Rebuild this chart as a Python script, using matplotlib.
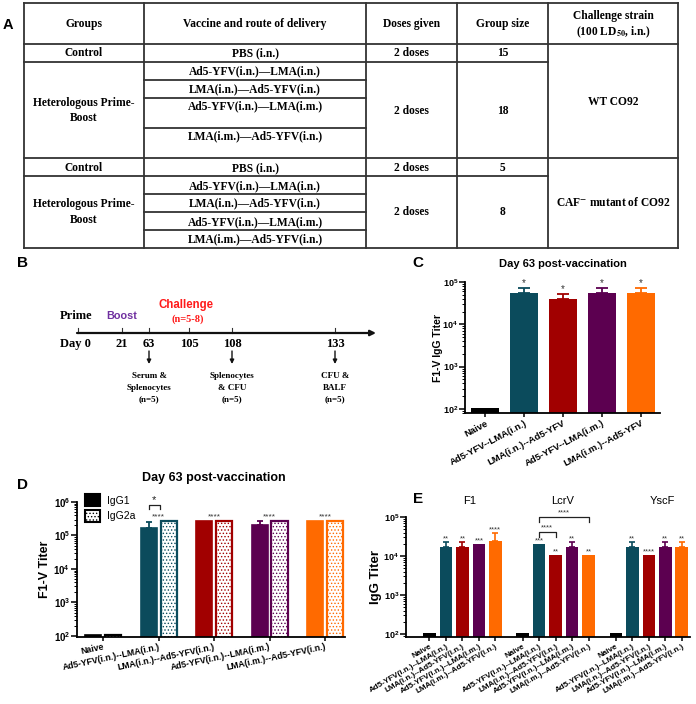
import numpy as np
import matplotlib
matplotlib.use('Agg')
import matplotlib.pyplot as plt
from matplotlib.patches import Patch
from matplotlib.ticker import FixedLocator, FuncFormatter, LogLocator, NullFormatter

plt.rcParams['font.family'] = ['Liberation Sans', 'DejaVu Sans']
plt.rcParams['mathtext.fontset'] = 'custom'
plt.rcParams['mathtext.rm'] = 'Liberation Sans'
plt.rcParams['mathtext.bf'] = 'Liberation Sans:bold'
plt.rcParams['mathtext.it'] = 'Liberation Sans:italic'
plt.rcParams['hatch.linewidth'] = 0.6

# ---- table (panel A)
table_header = ['Groups', 'Vaccine and route of delivery', 'Doses given', 'Group size']
challenge_header = ['Challenge strain', r'(100 LD$_{\mathbf{50}}$, i.n.)']
regimens = ['Ad5-YFV(i.n.)\u2014LMA(i.n.)', 'LMA(i.n.)\u2014Ad5-YFV(i.n.)',
            'Ad5-YFV(i.n.)\u2014LMA(i.m.)', 'LMA(i.m.)\u2014Ad5-YFV(i.n.)']
control_vaccine = 'PBS (i.n.)'
doses = '2 doses'
group_sizes_wt = ['15', '18']
group_sizes_caf = ['5', '8']
strains = ['WT CO92', r'CAF$^{\mathbf{-}}$ mutant of CO92']

# ---- timeline (panel B)
days = ['Day 0', '21', '63', '105', '108', '133']
samples = {'63': ['Serum &', 'Splenocytes', '(n=5)'],
           '108': ['Splenocytes', '& CFU', '(n=5)'],
           '133': ['CFU &', 'BALF', '(n=5)']}

# ---- panel C
groups_c = ['Naive', 'Ad5-YFV--LMA(i.n.)', 'LMA(i.n.)--Ad5-YFV',
            'Ad5-YFV--LMA(i.m.)', 'LMA(i.m.)--Ad5-YFV']
titer_c = [104, 55000, 40000, 55000, 55000]
err_c = [0, 17000, 12000, 17000, 17000]
stars_c = ['', '*', '*', '*', '*']

# ---- panel D
groups_d = ['Naive', 'Ad5-YFV(i.n.)--LMA(i.n.)', 'LMA(i.n.)--Ad5-YFV(i.n.)',
            'Ad5-YFV(i.n.)--LMA(i.m.)', 'LMA(i.m.)--Ad5-YFV(i.n.)']
igg1 = [110, 170000, 262144, 210000, 262144]
igg1_err = [0, 80000, 0, 70000, 0]
igg2a = [110, 262144, 262144, 262144, 262144]
stars_d = ['', '****', '****', '****', '****']

# ---- panel E
antigens = ['F1', 'LcrV', 'YscF']
titer_f1 = [105, 17000, 17000, 20500, 24000]
err_f1 = [0, 6000, 6000, 0, 15000]
titer_lcrv = [105, 20500, 10500, 17000, 10500]
err_lcrv = [0, 0, 0, 6000, 0]
titer_yscf = [105, 17000, 10500, 17000, 17000]
err_yscf = [0, 6000, 0, 6000, 6000]
stars_f1 = ['', '**', '**', '***', '****']
stars_lcrv = ['', '***', '**', '**', '**']
stars_yscf = ['', '**', '****', '**', '**']

colors = ['#000000', '#0b4b5c', '#a10000', '#5c0050', '#ff6a00']
star_col = '#333333'


def log_label(v, pos):
    return r'$\mathbf{10^{%d}}$' % round(np.log10(v))


def style_axis(ax, ymin, ymax, decades, fs):
    ax.set_yscale('log')
    ax.set_ylim(ymin, ymax)
    ax.yaxis.set_major_locator(FixedLocator(decades))
    ax.yaxis.set_major_formatter(FuncFormatter(log_label))
    ax.yaxis.set_minor_locator(LogLocator(base=10, subs=np.arange(2, 10)))
    ax.yaxis.set_minor_formatter(NullFormatter())
    for s in ['top', 'right']:
        ax.spines[s].set_visible(False)
    for s in ['left', 'bottom']:
        ax.spines[s].set_linewidth(1.3)
    ax.tick_params(axis='y', which='major', length=4, width=1.1, labelsize=fs, pad=1)
    ax.tick_params(axis='y', which='minor', length=2, width=0.7)
    ax.tick_params(axis='x', length=3, width=1.1, pad=1)
    ax.set_facecolor('none')


fig = plt.figure(figsize=(6.96, 7.04), dpi=100)

# ================= panel C
axc = fig.add_axes([465 / 696, 1 - 413 / 704, 195 / 696, 131 / 704])
xc = np.arange(len(groups_c))
axc.bar(xc, titer_c, width=0.72, color=colors, bottom=1)
for i in range(len(xc)):
    if err_c[i] > 0:
        axc.errorbar(xc[i], titer_c[i], yerr=[[0], [err_c[i]]], fmt='none',
                     ecolor=colors[i], capsize=4.5, elinewidth=1.3, capthick=1.3)
    axc.text(xc[i], titer_c[i] + err_c[i], stars_c[i], ha='center', va='bottom',
             fontsize=7, color=star_col, clip_on=False)
style_axis(axc, 80, 1e5, [1e2, 1e3, 1e4, 1e5], 6.5)
axc.set_xlim(-0.51, 4.49)
axc.set_xticks(xc)
axc.set_xticklabels(groups_c, rotation=28, ha='right', rotation_mode='anchor',
                    fontsize=6.8, fontweight='bold')
axc.set_ylabel('F1-V IgG Titer', fontsize=7.5, fontweight='bold')
axc.yaxis.set_label_coords(-0.115, 0.5)

# ================= panel D
axd = fig.add_axes([77 / 696, 1 - 637 / 704, 268 / 696, 135 / 704])
xd = np.arange(len(groups_d))
off = 0.18
w = 0.29
axd.bar(xd - off, igg1, width=w, color=colors, edgecolor=colors, linewidth=1.2)
axd.bar(xd + off, igg2a, width=w, color='white', edgecolor=colors, linewidth=1.6,
        hatch='.....')
for i in range(len(xd)):
    if igg1_err[i] > 0:
        axd.errorbar(xd[i] - off, igg1[i], yerr=[[0], [igg1_err[i]]], fmt='none',
                     ecolor=colors[i], capsize=2.5, elinewidth=1.3, capthick=1.3)
    axd.text(xd[i], igg2a[i] * 1.05, stars_d[i], ha='center', va='bottom',
             fontsize=6, color=star_col, clip_on=False)
# IgG1 vs IgG2a bracket
axd.plot([0.82, 0.82, 1.03, 1.03], [6.2e5, 8.1e5, 8.1e5, 6.2e5], color='#222222',
         lw=0.9, clip_on=False)
axd.text(0.925, 8.2e5, '*', ha='center', va='bottom', fontsize=8, color='#222222')
style_axis(axd, 93, 1e6, [1e2, 1e3, 1e4, 1e5, 1e6], 7)
axd.set_xlim(-0.47, 4.36)
axd.set_xticks(xd)
axd.set_xticklabels(groups_d, rotation=12, ha='right', rotation_mode='anchor',
                    fontsize=6.3, fontweight='bold')
axd.set_ylabel('F1-V Titer', fontsize=9, fontweight='bold')
axd.yaxis.set_label_coords(-0.097, 0.5)
leg_handles = [Patch(facecolor='black', edgecolor='black', linewidth=1.5, label='IgG1'),
               Patch(facecolor='white', edgecolor='black', linewidth=1.5, hatch='.....',
                     label='IgG2a')]
axd.legend(handles=leg_handles, loc='upper left', bbox_to_anchor=(0.015, 1.09),
           frameon=False, fontsize=7.5, handlelength=1.45, handleheight=1.45,
           labelspacing=0.3, handletextpad=0.6, borderaxespad=0)

# ================= panel E
axe = fig.add_axes([406 / 696, 1 - 637 / 704, 284 / 696, 120 / 704])
titers_e = [titer_f1, titer_lcrv, titer_yscf]
errs_e = [err_f1, err_lcrv, err_yscf]
stars_e = [stars_f1, stars_lcrv, stars_yscf]
gap = 5.65
xe_all = []
lab_all = []
for g in range(len(antigens)):
    xe = np.arange(5) + g * gap
    axe.bar(xe, titers_e[g], width=0.76, color=colors)
    for i in range(5):
        if errs_e[g][i] > 0:
            axe.errorbar(xe[i], titers_e[g][i], yerr=[[0], [errs_e[g][i]]], fmt='none',
                         ecolor=colors[i], capsize=2.3, elinewidth=1.2, capthick=1.2)
        axe.text(xe[i], (titers_e[g][i] + errs_e[g][i]) * 0.97, stars_e[g][i],
                 ha='center', va='bottom', fontsize=5.5, color=star_col)
    xe_all += list(xe)
    lab_all += groups_d
# LcrV comparisons
x_teal = 1 + gap
axe.plot([x_teal, x_teal, 4 + gap, 4 + gap], [7.4e4, 1e5, 1e5, 7.4e4], color='#222222',
         lw=0.9, clip_on=False)
axe.text((x_teal + 4 + gap) / 2, 1.03e5, '****', ha='center', va='bottom', fontsize=5.5,
         color=star_col, clip_on=False)
axe.plot([x_teal, x_teal, 2 + gap, 2 + gap], [3.1e4, 4.1e4, 4.1e4, 3.1e4], color='#222222',
         lw=0.9)
axe.text((x_teal + 2 + gap) / 2, 4.2e4, '****', ha='center', va='bottom', fontsize=5.5,
         color=star_col)
style_axis(axe, 84, 1e5, [1e2, 1e3, 1e4, 1e5], 6.5)
axe.set_xlim(-1.42, 2 * gap + 4.5)
axe.set_xticks(xe_all)
axe.set_xticklabels(lab_all, rotation=30, ha='right', rotation_mode='anchor',
                    fontsize=5.8, fontweight='bold')
axe.set_ylabel('IgG Titer', fontsize=9.5, fontweight='bold')
axe.yaxis.set_label_coords(-0.085, 0.5)

# ================= overlay: table, timeline, letters, titles (pixel coords)
ov = fig.add_axes([0, 0, 1, 1])
ov.set_xlim(0, 696)
ov.set_ylim(704, 0)
ov.axis('off')

line_kw = dict(color='#333333', lw=1.3, solid_capstyle='projecting')
cols = [24, 144, 366, 457, 548, 678]
for y in [3, 44, 158, 248]:
    ov.plot([24, 678], [y, y], **line_kw)
for y in [62, 176]:
    ov.plot([24, 548], [y, y], **line_kw)
for y in [80, 98, 128, 194, 212, 230]:
    ov.plot([144, 366], [y, y], **line_kw)
for x in cols:
    ov.plot([x, x], [3, 248], **line_kw)

tkw = dict(ha='center', va='center', fontsize=8.3, fontweight='bold',
           family='Liberation Serif', math_fontfamily='stix')
cx = [(cols[i] + cols[i + 1]) / 2 for i in range(5)]
for i, h in enumerate(table_header):
    ov.text(cx[i], 24, h, **tkw)
ov.text(cx[4], 16, challenge_header[0], **tkw)
ov.text(cx[4], 32, challenge_header[1], **tkw)
# WT block
ov.text(cx[0], 53, 'Control', **tkw)
ov.text(cx[1], 53, control_vaccine, **tkw)
ov.text(cx[2], 53, doses, **tkw)
ov.text(cx[3], 53, group_sizes_wt[0], **tkw)
for y, r in zip([71, 89, 106, 136], regimens):
    ov.text(cx[1], y, r, **tkw)
ov.text(cx[0], 103, 'Heterologous Prime-', **tkw)
ov.text(cx[0], 118, 'Boost', **tkw)
ov.text(cx[2], 111, doses, **tkw)
ov.text(cx[3], 111, group_sizes_wt[1], **tkw)
ov.text(cx[4], 102, strains[0], **tkw)
# CAF- block
ov.text(cx[0], 168, 'Control', **tkw)
ov.text(cx[1], 168, control_vaccine, **tkw)
ov.text(cx[2], 168, doses, **tkw)
ov.text(cx[3], 168, group_sizes_caf[0], **tkw)
for y, r in zip([186, 203, 222, 239], regimens):
    ov.text(cx[1], y, r, **tkw)
ov.text(cx[0], 204, 'Heterologous Prime-', **tkw)
ov.text(cx[0], 220, 'Boost', **tkw)
ov.text(cx[2], 212, doses, **tkw)
ov.text(cx[3], 212, group_sizes_caf[1], **tkw)
ov.text(cx[4], 203, strains[1], **tkw)

# timeline
serif = dict(family='Liberation Serif', fontweight='bold', ha='center', va='center')
day_x = [78, 122, 149, 189, 232, 335]
ov.annotate('', xy=(376, 333), xytext=(77, 333),
            arrowprops=dict(arrowstyle='-|>', lw=1.6, color='#111111', mutation_scale=8,
                            shrinkA=0, shrinkB=0))
for x, d in zip(day_x, days):
    ov.plot([x, x], [328, 333], color='#333333', lw=0.8)
    ov.text(x if d != 'Day 0' else 75, 344, d, fontsize=9, **serif)
    if d in samples:
        ov.annotate('', xy=(x, 364), xytext=(x, 351),
                    arrowprops=dict(arrowstyle='-|>', lw=1, color='#111111',
                                    mutation_scale=6, shrinkA=0, shrinkB=0))
        for k, s in enumerate(samples[d]):
            ov.text(x, 376 + 11.5 * k, s, fontsize=6.5, **serif)
ov.text(76, 316, 'Prime', fontsize=9, **serif)
ov.text(122, 316, 'Boost', fontsize=7.8, fontweight='bold', color='#7030a0',
        ha='center', va='center')
ov.text(186, 305, 'Challenge', fontsize=8.3, fontweight='bold', color='#ff1a1a',
        ha='center', va='center')
ov.text(188, 319, '(n=5-8)', fontsize=7.5, color='#ff1a1a',
        **{k: v for k, v in serif.items()})

# panel letters and titles
ov.text(8, 25, 'A', fontsize=10.5, fontweight='bold', ha='center', va='center')
ov.text(22, 263, 'B', fontsize=11, fontweight='bold', ha='center', va='center')
ov.text(418, 263, 'C', fontsize=11, fontweight='bold', ha='center', va='center')
ov.text(23, 485, 'D', fontsize=11, fontweight='bold', ha='center', va='center')
ov.text(418, 499, 'E', fontsize=11, fontweight='bold', ha='center', va='center')
ov.text(563, 264, 'Day 63 post-vaccination', fontsize=8, fontweight='bold',
        ha='center', va='center')
ov.text(214, 478, 'Day 63 post-vaccination', fontsize=9, fontweight='bold',
        ha='center', va='center')
for x, a in zip([470, 563, 662], antigens):
    ov.text(x, 501, a, fontsize=8, ha='center', va='center')

fig.savefig('out.png', dpi=100)
